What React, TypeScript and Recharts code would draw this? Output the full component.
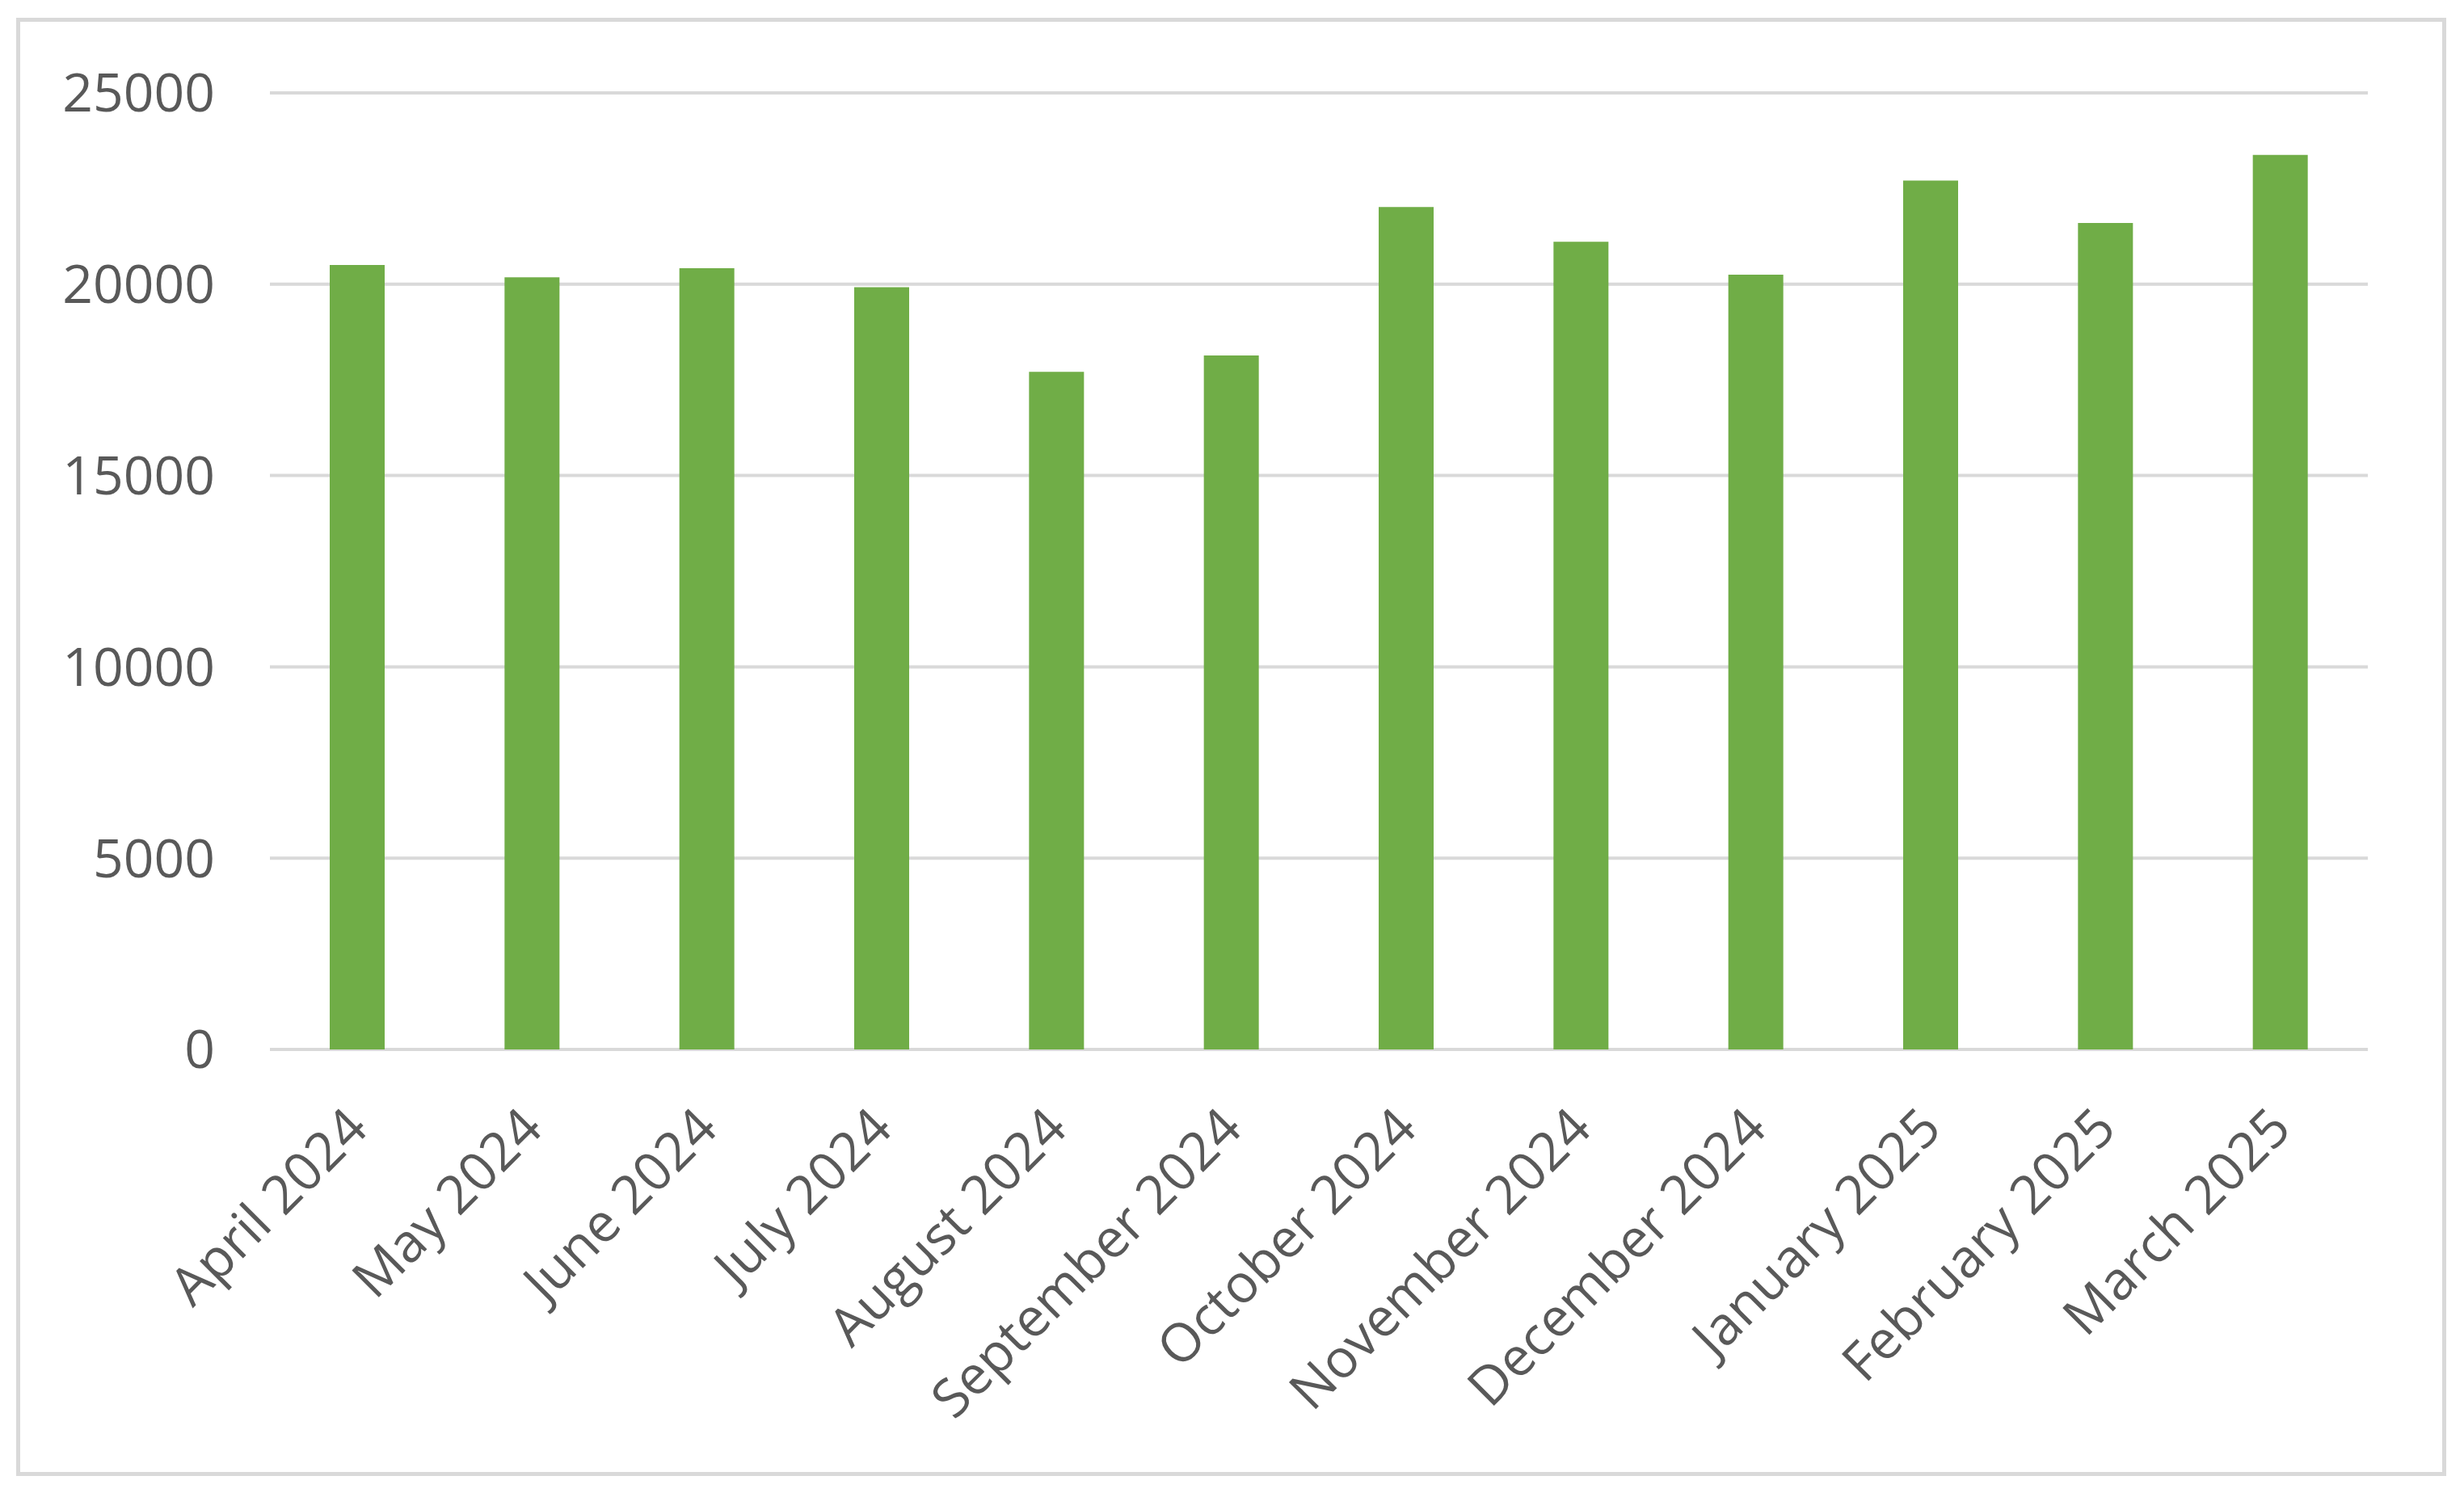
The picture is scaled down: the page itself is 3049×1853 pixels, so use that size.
import { BarChart, Bar, XAxis, YAxis, CartesianGrid } from 'recharts';

const months = [
  'April 2024',
  'May 2024',
  'June 2024',
  'July 2024',
  'August 2024',
  'September 2024',
  'October 2024',
  'November 2024',
  'December 2024',
  'January 2025',
  'February 2025',
  'March 2025',
];

const counts = [20500, 20180, 20420, 19920, 17710, 18140, 22020, 21110, 20250, 22710, 21600, 23380];

const yTicks = [0, 5000, 10000, 15000, 20000, 25000];

const data = months.map((month, i) => ({ month, value: counts[i] }));

const FONT = "'Open Sans', 'Noto Sans', sans-serif";
const TEXT = '#595959';
const GRID = '#d9d9d9';

// rotated month label, text end sits just right of the tick
function MonthTick(props: any) {
  const { x, y, payload } = props;
  return (
    <text
      transform={`translate(${x + 16},${y + 101}) rotate(-45)`}
      textAnchor="end"
      fill={TEXT}
      fontSize={66}
      fontFamily={FONT}
    >
      {payload.value}
    </text>
  );
}

export default function App() {
  return (
    <div style={{ position: 'absolute', left: 0, top: 0, width: 3049, height: 1853, background: '#fff' }}>
      <div
        style={{
          position: 'absolute',
          left: 20,
          top: 22,
          width: 3007,
          height: 1805,
          boxSizing: 'border-box',
          border: `5px solid ${GRID}`,
        }}
      />
      <div style={{ position: 'absolute', left: 0, top: 0 }}>
        <BarChart width={3049} height={1853} data={data} margin={{ top: 115, right: 119, left: 0, bottom: 0 }}>
          <CartesianGrid vertical={false} stroke={GRID} strokeWidth={4} />
          <XAxis
            dataKey="month"
            height={554}
            axisLine={false}
            tickLine={false}
            tickSize={0}
            tickMargin={0}
            interval={0}
            tick={<MonthTick />}
          />
          <YAxis
            width={334}
            domain={[0, 25000]}
            ticks={yTicks}
            axisLine={false}
            tickLine={false}
            tickSize={0}
            tickMargin={68}
            tick={{ fontSize: 66, fill: TEXT, fontFamily: FONT }}
          />
          <Bar dataKey="value" fill="#70ad47" barSize={68} isAnimationActive={false} />
        </BarChart>
      </div>
    </div>
  );
}
